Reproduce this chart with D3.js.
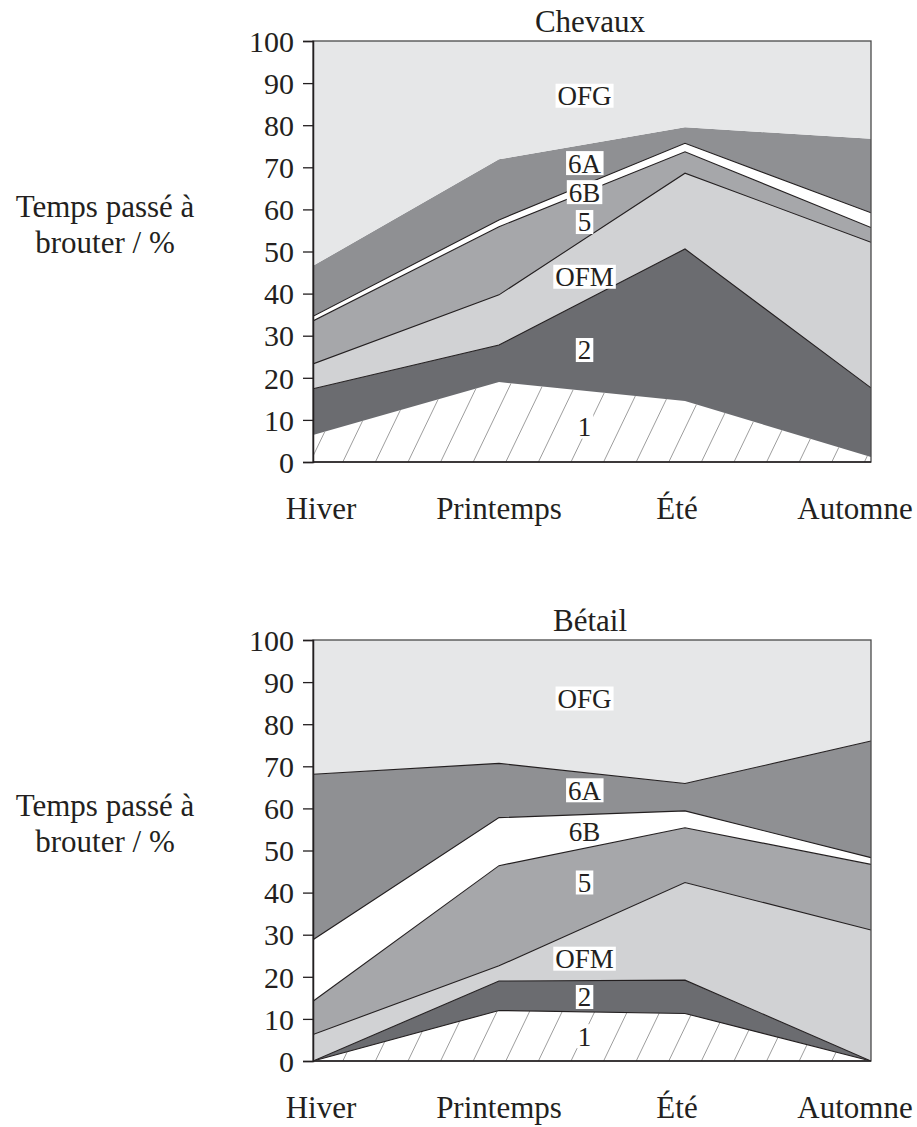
<!DOCTYPE html>
<html>
<head>
<meta charset="utf-8">
<script src="https://cdn.jsdelivr.net/npm/d3@7"></script>
<style>
  html, body { margin: 0; padding: 0; background: #fff; }
  svg { display: block; font-family: "Liberation Serif", "Times New Roman", serif; }
</style>
</head>
<body>
<svg id="chart" width="917" height="1127"></svg>
<script>
// ---------- data ----------
const seasons = ["Hiver", "Printemps", "Été", "Automne"];
const layerKeys = ["1", "2", "OFM", "5", "6B", "6A", "OFG"];   // bottom → top
const yTicks = [0, 10, 20, 30, 40, 50, 60, 70, 80, 90, 100];
const yLabelLines = ["Temps passé à", "brouter / %"];

// Chevaux: share of grazing time per vegetation type (%)
const chevaux1   = [6.4, 19.0, 14.5, 1.2];
const chevaux2   = [11.0, 8.8, 36.1, 16.4];
const chevauxOFM = [5.9, 11.9, 18.0, 34.6];
const chevaux5   = [10.2, 16.2, 5.1, 3.5];
const chevaux6B  = [1.1, 1.6, 2.0, 3.5];
const chevaux6A  = [12.0, 14.4, 3.8, 17.6];
const chevauxOFG = [53.4, 28.1, 20.5, 23.2];

// Bétail
const betail1   = [0, 12.0, 11.3, 0];
const betail2   = [0, 7.0, 7.9, 0];
const betailOFM = [6.3, 3.6, 23.2, 31.1];
const betail5   = [7.9, 23.8, 13.0, 15.6];
const betail6B  = [14.6, 11.4, 4.0, 1.6];
const betail6A  = [39.3, 12.9, 6.5, 27.7];
const betailOFG = [31.9, 29.3, 34.1, 24.0];

// label vertical positions (% value at label centre)
const chevauxLabelY = [8.4, 26.6, 44.0, 57.0, 64.1, 71.0, 87.0];
const betailLabelY  = [5.9, 15.2, 24.3, 42.4, 54.6, 64.3, 86.1];

// ---------- styles ----------
const fills = { "1": "#ffffff", "2": "#6b6c70", "OFM": "#d1d2d4", "5": "#a6a7aa",
                "6B": "#ffffff", "6A": "#8f9093", "OFG": "#e6e7e8" };
const ink = "#231f20";

const charts = [
  { title: "Chevaux", top: 41, series: [chevaux1, chevaux2, chevauxOFM, chevaux5, chevaux6B, chevaux6A, chevauxOFG],
    labelY: chevauxLabelY, outlined: ["2", "OFM", "5", "6B"] },
  { title: "Bétail", top: 640, series: [betail1, betail2, betailOFM, betail5, betail6B, betail6A, betailOFG],
    labelY: betailLabelY, outlined: ["1", "2", "OFM", "5", "6B", "6A"] }
];

const svg = d3.select("#chart");
const left = 313, right = 871, plotH = 421;

charts.forEach((c, ci) => {
  const g = svg.append("g");
  const x = d3.scalePoint().domain(seasons).range([left, right]);
  const xi = d3.scaleLinear().domain([0, seasons.length - 1]).range([left, right]);
  const y = d3.scaleLinear().domain([0, 100]).range([c.top + plotH, c.top]);

  const rows = seasons.map((s, i) => {
    const r = { season: s };
    layerKeys.forEach((k, j) => r[k] = c.series[j][i]);
    return r;
  });
  const stacked = d3.stack().keys(layerKeys)(rows);

  const area = d3.area().x(d => x(d.data.season)).y0(d => y(d[0])).y1(d => y(d[1]));
  const topLine = d3.line().x(d => x(d.data.season)).y(d => y(d[1]));

  // clip for the plot
  const clipId = "plotclip" + ci;
  svg.append("clipPath").attr("id", clipId).append("rect")
    .attr("x", left).attr("y", c.top).attr("width", right - left).attr("height", plotH);

  const plot = g.append("g").attr("clip-path", `url(#${clipId})`);
  plot.selectAll("path.layer").data(stacked).join("path")
    .attr("class", "layer")
    .attr("d", area)
    .attr("fill", d => fills[d.key]);

  // hatching on layer 1
  const hatchClip = "hatch" + ci;
  svg.append("clipPath").attr("id", hatchClip).append("path").attr("d", area(stacked[0]));
  const hg = plot.append("g").attr("clip-path", `url(#${hatchClip})`);
  const spacing = 32.6, slope = 2.08;
  const x0s = d3.range(left + 4 - plotH / slope, right + spacing, spacing);
  hg.selectAll("line").data(x0s).join("line")
    .attr("x1", d => d).attr("y1", y(0))
    .attr("x2", d => d + plotH / slope).attr("y2", y(100))
    .attr("stroke", "#9d9d9d").attr("stroke-width", 1);

  // boundary lines
  plot.selectAll("path.edge").data(stacked.filter(s => c.outlined.includes(s.key))).join("path")
    .attr("class", "edge")
    .attr("d", topLine)
    .attr("fill", "none").attr("stroke", ink).attr("stroke-width", 1.1);

  // frame
  g.append("rect").attr("x", left).attr("y", c.top).attr("width", right - left).attr("height", plotH)
    .attr("fill", "none").attr("stroke", "#4a4a4a").attr("stroke-width", 1.3);

  // y axis
  const yAxis = d3.axisLeft(y).tickValues(yTicks).tickSize(10).tickPadding(9).tickFormat(d3.format("d"));
  const ya = g.append("g").attr("transform", `translate(${left},0)`).call(yAxis);
  ya.select(".domain").attr("stroke", ink).attr("stroke-width", 1.5);
  ya.selectAll(".tick line").attr("stroke", ink).attr("stroke-width", 1.3);
  ya.selectAll(".tick text").attr("font-size", 30).attr("fill", ink)
    .attr("font-family", "Liberation Serif, Times New Roman, serif").attr("dy", "0.34em");

  // bottom axis line
  g.append("line").attr("x1", left).attr("x2", right).attr("y1", y(0)).attr("y2", y(0))
    .attr("stroke", ink).attr("stroke-width", 1.5);

  // x labels
  const xl = d3.scalePoint().domain(seasons).range([321, 855]);
  g.selectAll("text.xlab").data(seasons).join("text")
    .attr("class", "xlab")
    .attr("x", d => xl(d)).attr("y", y(0) + 57)
    .attr("text-anchor", "middle").attr("font-size", 31).attr("fill", ink)
    .text(d => d);

  // title
  g.append("text").attr("x", (left + right) / 2 - 2).attr("y", c.top - 9)
    .attr("text-anchor", "middle").attr("font-size", 31).attr("fill", ink).text(c.title);

  // y label
  g.selectAll("text.ylab").data(yLabelLines).join("text")
    .attr("class", "ylab")
    .attr("x", 105).attr("y", (d, i) => c.top + 176 + i * 36)
    .attr("text-anchor", "middle").attr("font-size", 31).attr("fill", ink).text(d => d);

  // layer labels
  const lx = xi(1.46);
  layerKeys.forEach((k, j) => {
    const lg = g.append("g");
    const t = lg.append("text").attr("x", lx).attr("y", y(c.labelY[j]))
      .attr("text-anchor", "middle").attr("dy", "0.35em")
      .attr("font-size", 27).attr("fill", ink).text(k);
    const bb = t.node().getBBox();
    lg.insert("rect", "text")
      .attr("x", bb.x - 2).attr("y", y(c.labelY[j]) - 12)
      .attr("width", bb.width + 4).attr("height", 24)
      .attr("fill", "#ffffff");
  });
});
</script>
</body>
</html>
